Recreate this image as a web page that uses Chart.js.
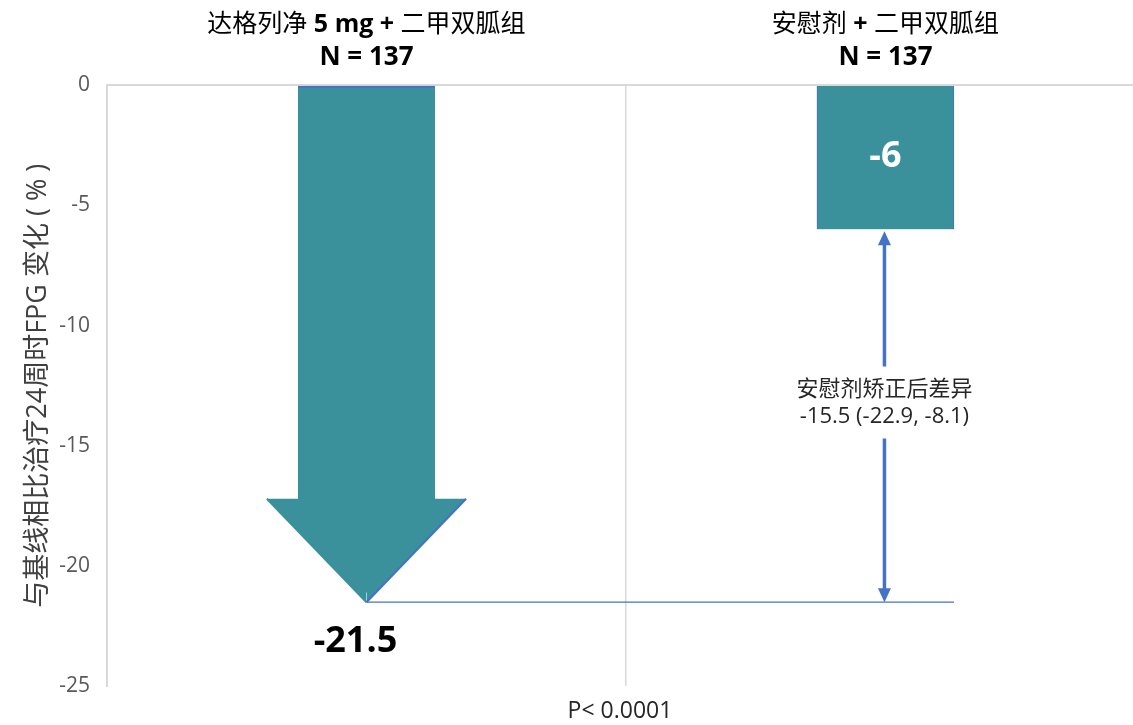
<!DOCTYPE html>
<html>
<head>
<meta charset="utf-8">
<script src="https://cdn.jsdelivr.net/npm/chart.js@4.4.1/dist/chart.umd.min.js"></script>
<style>
  html, body { margin: 0; padding: 0; background: #ffffff; overflow: hidden; }
  #wrap { width: 1133px; height: 725px; }
</style>
</head>
<body>
<div id="wrap"><canvas id="c" width="1133" height="725"></canvas></div>
<script>
// ---- data ----
const categories = ['达格列净 5 mg + 二甲双胍组', '安慰剂 + 二甲双胍组'];
const groupSizes = [137, 137];
const fpgChange = [-21.5, -6];
const yTicks = [0, -5, -10, -15, -20, -25];
const diffLines = ['安慰剂矫正后差异', '-15.5 (-22.9, -8.1)'];
const pValueText = 'P< 0.0001';
const yTitle = '与基线相比治疗24周时FPG 变化 ( % )';

// ---- shape / layout constants (not data) ----
const HEAD_LEN = 4.3;          // arrow head length in axis units
const HEAD_HALF = 0.192;       // arrow head half width in category units
const BAR_HALF = 0.132;        // bar half width in category units
const X_MAX = 1.977;
const DIFF_LABEL_AT = -13.2;

const TEAL = '#3A919B';
const BLUE = '#4472C4';
const FONT = '"Open Sans", "Noto Sans CJK SC", sans-serif';

const xPos = categories.map((_, i) => i + 0.5);
const headBase = fpgChange[0] + HEAD_LEN;

const annotations = {
  id: 'annotations',
  afterDatasetsDraw(chart) {
    const ctx = chart.ctx;
    const xs = chart.scales.x, ys = chart.scales.y;
    const area = chart.chartArea;
    ctx.save();
    ctx.textBaseline = 'middle';

    // category headers with mixed weight
    categories.forEach((cat, i) => {
      const cx = xs.getPixelForValue(xPos[i]);
      const parts = cat.split(/([\u4e00-\u9fff]+)/).filter(s => s.length);
      const segs = parts.map(p => ({ t: p, bold: !/[\u4e00-\u9fff]/.test(p) }));
      let total = 0;
      segs.forEach(s => {
        ctx.font = (s.bold ? 'bold ' : '') + '25px ' + FONT;
        s.w = ctx.measureText(s.t).width;
        total += s.w;
      });
      let x = cx - total / 2;
      ctx.fillStyle = '#000000';
      ctx.textAlign = 'left';
      segs.forEach(s => {
        ctx.font = (s.bold ? 'bold ' : '') + '25px ' + FONT;
        ctx.fillText(s.t, x, area.top - 60);
        x += s.w;
      });
      ctx.textAlign = 'center';
      ctx.font = 'bold 26px ' + FONT;
      ctx.fillText('N = ' + groupSizes[i], cx, area.top - 27);
    });

    // value labels
    ctx.textAlign = 'center';
    ctx.font = 'bold 36px ' + FONT;
    ctx.fillStyle = '#000000';
    ctx.fillText(String(fpgChange[0]), xs.getPixelForValue(xPos[0]) - 11, ys.getPixelForValue(fpgChange[0]) + 40);
    ctx.fillStyle = '#ffffff';
    ctx.fillText(String(fpgChange[1]), xs.getPixelForValue(xPos[1]), ys.getPixelForValue(fpgChange[1] / 2));

    // difference double arrow
    const ax = xs.getPixelForValue(xPos[1]) - 1;
    const yTop = ys.getPixelForValue(fpgChange[1]) + 2;
    const yBot = ys.getPixelForValue(fpgChange[0]);
    const yMid = ys.getPixelForValue(DIFF_LABEL_AT);
    const gap = 36, hl = 14, hw = 6.5;
    ctx.strokeStyle = BLUE;
    ctx.fillStyle = BLUE;
    ctx.lineWidth = 3.5;
    ctx.beginPath();
    ctx.moveTo(ax, yTop + hl - 1); ctx.lineTo(ax, yMid - gap);
    ctx.moveTo(ax, yMid + gap); ctx.lineTo(ax, yBot - hl + 1);
    ctx.stroke();
    ctx.beginPath();
    ctx.moveTo(ax, yTop); ctx.lineTo(ax - hw, yTop + hl); ctx.lineTo(ax + hw, yTop + hl); ctx.closePath();
    ctx.fill();
    ctx.beginPath();
    ctx.moveTo(ax, yBot); ctx.lineTo(ax - hw, yBot - hl); ctx.lineTo(ax + hw, yBot - hl); ctx.closePath();
    ctx.fill();

    ctx.fillStyle = '#262626';
    ctx.font = '22px ' + FONT;
    ctx.fillText(diffLines[0], ax, yMid - 13);
    ctx.fillText(diffLines[1], ax, yMid + 14);
    ctx.restore();
  }
};

new Chart(document.getElementById('c'), {
  data: {
    datasets: [
      {
        type: 'line',
        label: 'ref',
        data: [{ x: xPos[0], y: fpgChange[0] }, { x: xPos[1] + BAR_HALF, y: fpgChange[0] }],
        borderColor: BLUE,
        borderWidth: 1.2,
        pointRadius: 0,
        fill: false,
        order: 5
      },
      {
        type: 'bar',
        label: 'bars',
        data: [
          { x: xPos[0], y: [headBase - 0.05, 0] },
          { x: xPos[1], y: [fpgChange[1], 0] }
        ],
        backgroundColor: TEAL,
        borderColor: BLUE,
        borderSkipped: false,
        borderWidth: (c) => c.dataIndex === 0 ? { top: 2, left: 0, right: 0, bottom: 0 } : { top: 0, left: 1, right: 1, bottom: 0 },
        barThickness: 137,
        grouped: false,
        order: 3
      },
      {
        type: 'line',
        label: 'head',
        data: [
          { x: xPos[0] - HEAD_HALF, y: headBase },
          { x: xPos[0], y: fpgChange[0] },
          { x: xPos[0] + HEAD_HALF, y: headBase }
        ],
        backgroundColor: TEAL,
        borderWidth: 2,
        segment: { borderColor: (c) => c.p0DataIndex === 1 ? BLUE : TEAL },
        borderColor: TEAL,
        pointRadius: 0,
        tension: 0,
        fill: { value: headBase },
        order: 2
      },
      {
        type: 'line',
        label: 'head-seam',
        data: [{ x: xPos[0], y: headBase }, { x: xPos[0], y: fpgChange[0] + 0.4 }],
        borderColor: TEAL,
        borderWidth: 3,
        pointRadius: 0,
        fill: false,
        order: 1
      }
    ]
  },
  options: {
    responsive: false,
    devicePixelRatio: 1,
    animation: false,
    events: [],
    layout: { padding: { top: 85, left: 0, right: 0, bottom: 0 } },
    plugins: { legend: { display: false }, tooltip: { enabled: false } },
    scales: {
      x: {
        type: 'linear',
        min: 0,
        max: X_MAX,
        offset: false,
        afterBuildTicks: (s) => { s.ticks = [{ value: 1 }]; },
        ticks: { display: false },
        grid: { color: '#d9d9d9', lineWidth: 1.5, drawTicks: false, offset: false },
        border: { display: false },
        title: {
          display: true,
          text: pValueText,
          color: '#262626',
          font: { family: FONT, size: 23 },
          padding: { top: 11, bottom: 0 }
        }
      },
      y: {
        type: 'linear',
        min: -25,
        max: 0,
        afterBuildTicks: (s) => { s.ticks = yTicks.map(v => ({ value: v })); },
        afterFit: (s) => { s.width = 107; },
        ticks: { color: '#595959', font: { family: FONT, size: 21 }, padding: 17 },
        grid: {
          drawTicks: false,
          color: (c) => c.tick && c.tick.value === 0 ? '#d9d9d9' : 'rgba(0,0,0,0)',
          lineWidth: 2
        },
        border: { display: true, color: '#d9d9d9', width: 2 },
        title: {
          display: true,
          text: yTitle,
          color: '#404040',
          font: { family: FONT, size: 27 },
          padding: { top: 22, bottom: 0 }
        }
      }
    }
  },
  plugins: [annotations]
});
</script>
</body>
</html>
